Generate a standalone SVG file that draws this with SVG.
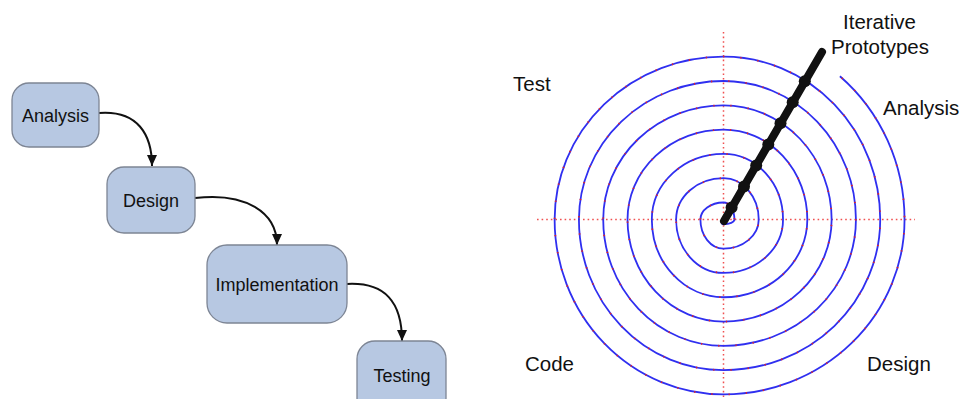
<svg xmlns="http://www.w3.org/2000/svg" width="962" height="399" viewBox="0 0 962 399">
  <style>
    .box { fill: #b7c8e2; stroke: #7d8594; stroke-width: 1.3; }
    .lbl { font-family: "Liberation Sans", Arial, sans-serif; font-size: 18px; fill: #111; text-anchor: middle; }
    .cap { font-family: "Liberation Sans", Arial, sans-serif; font-size: 20.5px; fill: #111; }
    .edge { fill: none; stroke: #111; stroke-width: 2; marker-end: url(#arrow); }
    .axis { fill: none; stroke: #f05050; stroke-width: 1.5; stroke-dasharray: 1.6 3; }
    .spiral { fill: none; stroke: #2f2ff0; stroke-width: 1.8; }
    .spiral-dots { fill: none; stroke: #e0232b; stroke-width: 1.8; stroke-dasharray: 1.3 16; }
    .proto { fill: #111; }
  </style>
  <defs>
    <marker id="arrow" viewBox="0 0 11 10" refX="11" refY="5" markerWidth="11" markerHeight="10" markerUnits="userSpaceOnUse" orient="auto">
      <path d="M0,0 L11,5 L0,10 z" fill="#111"/>
    </marker>
    <!-- Archimedean spiral built from quarter-ellipse arcs around (723.5, 219.5) -->
    <path id="spiralPath" d="M721.5,221 Q721.3,224.4 723.5,224.35
      A10.93,4.85 0 0 0 734.43,219.5
      A10.93,17 0 0 0 723.5,202.5
      A23.08,17 0 0 0 700.42,219.5
      A23.08,29.15 0 0 0 723.5,248.65
      A35.23,29.15 0 0 0 758.73,219.5
      A35.23,41.3 0 0 0 723.5,178.2
      A47.38,41.3 0 0 0 676.12,219.5
      A47.38,53.45 0 0 0 723.5,272.95
      A59.53,53.45 0 0 0 783.03,219.5
      A59.53,65.6 0 0 0 723.5,153.9
      A71.68,65.6 0 0 0 651.82,219.5
      A71.68,77.75 0 0 0 723.5,297.25
      A83.83,77.75 0 0 0 807.33,219.5
      A83.83,89.9 0 0 0 723.5,129.6
      A95.98,89.9 0 0 0 627.52,219.5
      A95.98,102.05 0 0 0 723.5,321.55
      A108.13,102.05 0 0 0 831.63,219.5
      A108.13,114.2 0 0 0 723.5,105.3
      A120.28,114.2 0 0 0 603.22,219.5
      A120.28,126.35 0 0 0 723.5,345.85
      A132.43,126.35 0 0 0 855.93,219.5
      A132.43,138.5 0 0 0 723.5,81
      A144.58,138.5 0 0 0 578.92,219.5
      A144.58,150.65 0 0 0 723.5,370.15
      A156.73,150.65 0 0 0 880.23,219.5
      A156.73,162.8 0 0 0 723.5,56.7
      A168.88,162.8 0 0 0 554.62,219.5
      A168.88,174.95 0 0 0 723.5,394.45
      A181.03,174.95 0 0 0 904.53,219.5
      A181.03,187.1 0 0 0 839.9,76.2"/>
  </defs>

  <rect width="962" height="399" fill="#ffffff"/>

  <!-- Waterfall model -->
  <g id="connectors">
    <path class="edge" d="M99,113 C138,110 152,135 152,166"/>
    <path class="edge" d="M195,198 C245,192 277,212 277,245"/>
    <path class="edge" d="M347,284 C385,282 402,302 402,341"/>
  </g>

  <g id="analysis">
    <rect class="box" x="12" y="83" width="87" height="64" rx="17"/>
    <text class="lbl" x="55.5" y="121.5">Analysis</text>
  </g>
  <g id="design">
    <rect class="box" x="107" y="167" width="88" height="66" rx="17"/>
    <text class="lbl" x="151" y="206.5">Design</text>
  </g>
  <g id="implementation">
    <rect class="box" x="207" y="245" width="140" height="78" rx="20"/>
    <text class="lbl" x="277" y="290.5">Implementation</text>
  </g>
  <g id="testing">
    <rect class="box" x="357" y="341" width="89" height="75" rx="18"/>
    <text class="lbl" x="402" y="382">Testing</text>
  </g>

  <!-- Spiral model -->
  <g id="spiral-model">
    <line class="axis" x1="537" y1="219.5" x2="915" y2="219.5"/>
    <line class="axis" x1="723.5" y1="32" x2="723.5" y2="399"/>
    <use href="#spiralPath" class="spiral"/>
    <use href="#spiralPath" class="spiral-dots"/>

    <g id="prototypes">
      <line x1="724" y1="221" x2="822" y2="52" stroke="#111" stroke-width="8" stroke-linecap="round"/>
      <circle class="proto" cx="731.6" cy="207.5" r="6"/>
      <circle class="proto" cx="744" cy="186.5" r="6"/>
      <circle class="proto" cx="756.2" cy="165.5" r="6"/>
      <circle class="proto" cx="768.3" cy="144.5" r="6"/>
      <circle class="proto" cx="780.5" cy="123.3" r="6"/>
      <circle class="proto" cx="792.7" cy="102.2" r="6"/>
      <circle class="proto" cx="804.8" cy="81.2" r="6"/>
    </g>

    <text class="cap" x="843" y="29">Iterative</text>
    <text class="cap" x="831" y="54">Prototypes</text>
    <text class="cap" x="883" y="115">Analysis</text>
    <text class="cap" x="513" y="91">Test</text>
    <text class="cap" x="525" y="371">Code</text>
    <text class="cap" x="867" y="371">Design</text>
  </g>
</svg>
